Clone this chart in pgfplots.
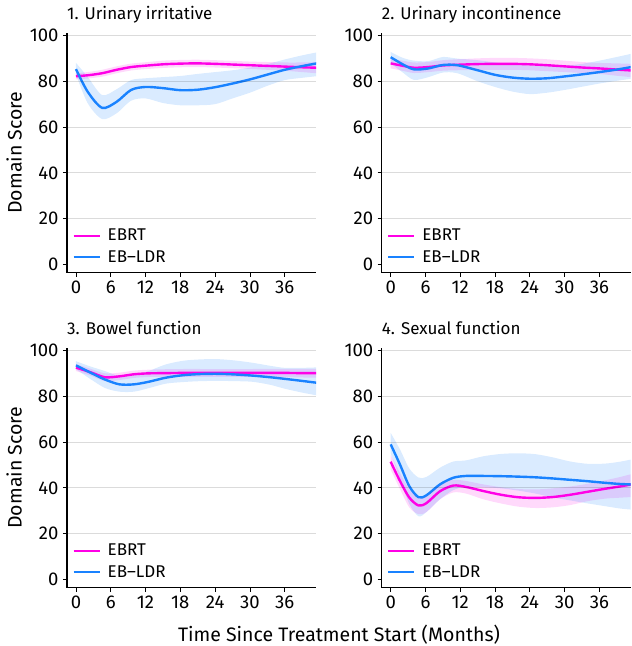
\documentclass[border=0pt]{standalone}
\usepackage{pgfplots}
\pgfplotsset{compat=1.18}
\usepackage{pgfplotstable}
\usepgfplotslibrary{groupplots,fillbetween}
\usepackage{fontspec}
\setmainfont{Fira Sans}
\newcommand{\fs}{\fontsize{17}{20}\selectfont}
\newcommand{\fst}{\fontsize{18.5}{21}\selectfont}
\newcommand{\fsl}{\fontsize{19.5}{22}\selectfont}
\definecolor{ebrt}{RGB}{255,0,230}
\definecolor{ldr}{RGB}{25,130,255}

\pgfplotstableread{
m mag magU magL blu bluU bluL
0 82.2 83.5 80.8 85.3 88 83
2 82.6 84 81.2 75.5 82 70.5
4.5 83.5 85 82 68.4 74 63.5
7 85 86.5 83.5 71 76.5 66
9.5 86.2 87.7 84.7 76.2 80.5 71.5
12 86.8 88.3 85.3 77.5 81.3 72.5
15 87.4 89 85.8 77 81.8 70.5
18 87.7 89.3 86.1 76.1 82.3 69.5
21 87.8 89.4 86.2 76.3 83.2 69.5
24 87.6 89.2 86 77.4 84 70
27 87.3 88.9 85.7 79 84.8 72.5
30 87 88.6 85.4 80.8 86 75
33 86.7 88.4 85 82.9 87.5 78
36 86.4 88.2 84.6 85 89.5 80.5
39 86.1 88.2 84 86.6 91.3 81.5
41.5 85.9 88.3 83.5 87.8 92.6 82.2
}\tabA
\pgfplotstableread{
m mag magU magL blu bluU bluL
0 87.8 90 85.6 90.5 92.8 87.8
2 86.8 89 84.6 87.5 90.3 84
4 85.9 88.2 83.6 85.2 89 80.6
6.5 86.2 88.4 84 85.6 88.8 81.8
9 86.9 89.2 84.6 87.1 90.6 83.8
11.5 87.2 89.6 84.8 87 89.9 83.5
15 87.5 90 85 84.8 89.2 80
18 87.6 90.2 85 82.8 88.2 77.5
21 87.6 90.2 85 81.6 87.4 75.5
24 87.4 90 84.8 81.1 86.9 74.4
27 87 89.6 84.4 81.3 86.7 75
30 86.5 89 84 82.1 86.8 76.2
33 86 88.4 83.6 83 87.6 77.6
36 85.6 88 83.2 84 89 79
39 85.1 87.8 82.4 85.1 90.6 80.2
41.5 84.7 87.6 81.8 86.2 92 81.1
}\tabB
\pgfplotstableread{
m mag magU magL blu bluU bluL
0 92.5 94 91 93.5 95.3 91.8
2.5 90.5 92 89 90.3 93 87.5
5 88.3 90 86.6 87.3 91 83.6
7.5 88.7 90.3 87.1 85.2 88.8 82
10 89.6 91.2 88 85.2 89.2 82
12.5 90 91.6 88.4 86.3 91 83.5
15.5 90.1 91.8 88.4 88.1 93.9 85.5
18.5 90.2 91.9 88.5 89.2 95.5 86.2
21.5 90.2 91.9 88.5 89.7 96.1 86.6
24.5 90.2 91.9 88.5 89.8 96.2 86.7
27.5 90.2 91.9 88.5 89.5 95.6 86.6
30.5 90.2 91.9 88.5 89 94.6 86.3
33.5 90.2 92 88.4 88.3 93.3 85
36 90.2 92 88.4 87.6 92.4 83.3
39 90.1 92 88.2 86.7 92.4 81.6
41.5 90.1 92 88.1 85.9 92.6 80.4
}\tabC
\pgfplotstableread{
m mag magU magL blu bluU bluL
0 51.4 54.5 48 59 64 55
1.6 43 46.5 39.5 50.2 56.8 44
3.2 35.8 39.5 31.5 40.8 48.5 33
4.8 32.3 36 28.5 35.9 44.5 27.6
6.2 33.4 37 29.5 36.8 44.8 29.5
8.5 38.5 42 35 41.5 48.8 35
10.8 41 43.5 38 44.4 51.5 39
13 40.4 43 37.5 45.2 52 40.5
16 38.6 41.5 35 45.2 53.8 40.3
19 37 40.3 33.2 45.1 54.8 39.8
22 35.9 39.5 31.8 44.9 55.1 38.8
25 35.6 39.3 31.2 44.6 54.7 37.5
28 36 39.8 31.5 44.1 53.3 35.8
31 37 40.6 32.5 43.5 51.5 34.5
34 38.3 41.8 34.2 42.9 50.5 33.2
37 39.6 43.3 35.3 42.2 50.6 32
39.5 40.6 44.7 35.7 41.7 51.4 31
41.5 41.5 46 36 41.5 52.4 30.5
}\tabD

\newcommand{\panel}[1]{%
  \addplot[draw=none, forget plot, smooth, name path=mu] table[x=m,y=magU]{#1};
  \addplot[draw=none, forget plot, smooth, name path=ml] table[x=m,y=magL]{#1};
  \addplot[fill=ebrt, fill opacity=0.15, draw=none, forget plot] fill between[of=mu and ml];
  \addplot[draw=none, forget plot, smooth, name path=bu] table[x=m,y=bluU]{#1};
  \addplot[draw=none, forget plot, smooth, name path=bl] table[x=m,y=bluL]{#1};
  \addplot[fill=ldr, fill opacity=0.16, draw=none, forget plot] fill between[of=bu and bl];
  \addplot[ebrt, line width=2.4pt, smooth] table[x=m,y=mag]{#1};
  \addlegendentry{EBRT}
  \addplot[ldr, line width=2.4pt, smooth] table[x=m,y=blu]{#1};
  \addlegendentry{EB--LDR}
}

\begin{document}
\begin{tikzpicture}
\begin{groupplot}[
  group style={group size=2 by 2, horizontal sep=65.7pt, vertical sep=75pt},
  width=249pt, height=240pt, scale only axis,
  xmin=-1.55, xmax=41.4, ymin=-3.6, ymax=101.2,
  xtick={0,6,...,36}, ytick={0,20,...,100},
  extra y ticks={20,40,60,80,100}, extra y tick labels={},
  extra y tick style={grid=major, major tick length=0pt},
  grid style={black, opacity=0.14, line width=1pt},
  axis on top,
  axis lines=left, axis line style={-, line width=1.5pt, black},
  tick align=outside, major tick length=4pt, tick style={black, line width=0.8pt},
  /pgf/number format/assume math mode=true,
  ticklabel style={font=\fst},
  xticklabel style={yshift=-1pt},
  yticklabel style={xshift=-1pt},
  title style={font=\fs, at={(0,1)}, anchor=base west, yshift=7pt, inner sep=0pt},
  ylabel style={font=\fsl, at={(axis description cs:-0.167,0.5)}, anchor=south, rotate=0},
  legend style={draw=none, fill=none, font=\fs, at={(rel axis cs:0.01,0.02)}, anchor=south west, row sep=4pt, column sep=5pt},
  legend cell align=left,
  legend image code/.code={\draw[#1, line width=2pt] (0pt,0pt) -- (26pt,0pt);},
]
\nextgroupplot[title={1. Urinary irritative}, ylabel={Domain Score}]
\panel{\tabA}
\nextgroupplot[title={2. Urinary incontinence}]
\panel{\tabB}
\nextgroupplot[title={3. Bowel function}, ylabel={Domain Score}]
\panel{\tabC}
\nextgroupplot[title={4. Sexual function}]
\panel{\tabD}
\end{groupplot}
\node[anchor=base, font=\fsl, inner sep=0pt] at ([xshift=272pt, yshift=-54pt]group c1r2.south west) {Time Since Treatment Start (Months)};
\path ([xshift=-67pt,yshift=-58.3pt]group c1r2.south west) rectangle ++(630pt,646pt);
\end{tikzpicture}
\end{document}
